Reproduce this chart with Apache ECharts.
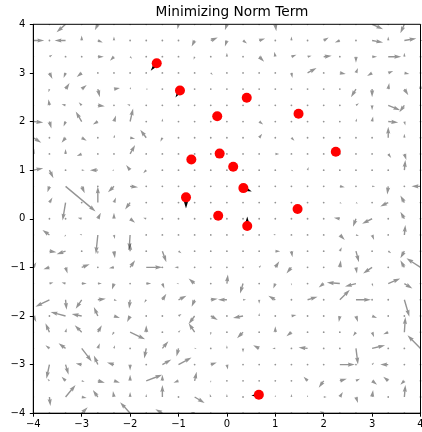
<!DOCTYPE html>
<html>
<head>
<meta charset="utf-8">
<script src="https://cdn.jsdelivr.net/npm/echarts@6/dist/echarts.min.js"></script>
<style>
  html, body { margin: 0; padding: 0; background: #fff; }
  #main { width: 422px; height: 432px; }
</style>
</head>
<body>
<div id="main"></div>
<script>
// quiver grid: 25 x 25 points, -4..4 on both axes
const GRID_N = 25;
const AXIS_MIN = -4;
const AXIS_MAX = 4;

// one string per grid row, top row (y=4) first, left to right.
// token "u,v" = arrow vector in arrow units, "0" = (almost) zero vector
const FIELD_ROWS = [
  '0 0 -9,-8 0 -3,-6 0 0 0 0 -1,-5 0 0 -2,-6 0 0 1,-7 0 0 0 0 0 11,-5 0 -4,-9 0',
  '11,0 0 -11,0 0,5 5,-2 0,4 0 0 0 1,-1 -3,-6 7,3 -2,-6 4,-3 6,2 0 0,4 0 5,3 -5,-2 0 11,-2 0,4 12,2 2,0',
  '0 3,2 0 0 6,0 -4,-4 2,-2 0 0 0 -1,-3 0 0,4 0 5,-5 -1,5 5,2 4,1 8,1 0 0,-6 5,0 13,0 0,4 0',
  '0 3,-6 -2,-5 -5,-4 0 0 0 0 0 0 0 2,-2 0 0 0 0 1,-5 9,5 0 6,-1 2,5 -5,-3 5,2 5,-1 0',
  '0 -1,-3 4,6 5,4 2,-8 6,1 1,2 2,0 0 0 0 0 0 0 0 0 0 0 0 0 -5,-8 0,-8 1,6 4,-6 0,5',
  '0 -1,6 -4,1 -3,3 7,-1 0 -3,1 0 0 0 0 0 0 0 0 0 0 0 0 0 3,2 0,-5 12,-5 -5,-7 0',
  '10,-1 2,-7 -2,-5 -6,10 -5,-3 2,6 3,13 0 0,3 0 0 0 0 0 4,-3 0 0 0 0 0 1,3 1,5 10,-1 1,-4 0',
  '8,-5 0 -4,-5 5,-3 0 1,3 5,-1 -6,8 -2,-4 0 0 0 0 0 3,4 0 3,-3 0 0 0 0 0 0,11 0,4 0',
  '1,5 0 0,5 -5,-2 0 0 5,9 0 0 0 0 0 0 0 0 4,0 0 0 0 0 0 0 3,-4 2,-6 0',
  '10,2 4,-8 0 3,0 -8,0 -2,0 -4,5 -3,-3 0 0 0 0 0 0 0 0 2,-1 1,3 0 0 0 0 0 1,10 0',
  '0 -2,-6 30,-25 3,-7 0 -6,-6 8,-1 0 0 0 0 0 0 0 0 0 0 0 0 5,-1 0 3,0 -1,-8 0 -9,0',
  '0 3,5 -3,-18 0 0,16 2,5 -5,-7 0 0 0 0 0 0 0 0 0 0 0 0 2,-1 2,-1 0 -8,-4 -4,7 0',
  '0 0 0 -4,1 3,6 0,6 5,-4 -3,1 0 0 0 0 0 0 0 0 0 0 0 -6,1 -3,-8 -10,-5 0 -4,7 0',
  '0 -7,5 -1,-2 -2,1 -2,-19 1,-4 -1,-15 0 0 0 0 0 0 0 0 -2,1 0 0 0 5,-5 3,-1 2,-5 0 1,10 0',
  '0 7,-1 -9,-3 0 0,-3 1,-7 0,8 0 4,-11 3,-2 0 0 0 0 0 5,0 1,-6 0 0 2,4 3,-11 0 3,-2 -4,-7 0',
  '3,5 -6,-2 2,-6 8,3 0 -5,-1 5,7 16,0 0 -4,0 0 0 0 0 2,2 4,6 -5,-6 0 0 1,7 1,-6 -9,-6 0 -4,7 -14,9',
  '0 4,1 -4,1 5,0 4,0 -2,-6 0 5,0 2,-5 -2,0 -6,5 0 1,9 -3,-10 0 -2,-5 0,-2 0 -5,-4 -13,1 -11,-3 1,-3 12,5 8,-5 0',
  '0 -14,-7 1,-10 -6,-9 8,1 3,-1 -1,-9 -2,-3 4,6 8,4 -3,-7 7,1 -9,0 3,0 0,-4 -7,4 0,-1 10,3 0 10,10 15,0 0 0 5,-17 0',
  '3,-6 0 -15,4 -10,2 -4,9 6,-2 -3,-6 0 0 3,2 -6,-8 7,-4 0 -10,-2 0,3 0 5,1 0 0 -1,-6 2,-6 5,-2 0 0 0',
  '0 -4,9 1,4 -7,7 4,7 -2,-3 15,-7 0,7 0 2,2 -6,9 0,-3 0 -6,-6 0 0,6 -5,-4 0 0 0 -3,-4 2,-5 -5,-2 1,15 0',
  '0 -4,3 -7,5 10,-13 2,5 1,3 0 -2,-10 6,7 -2,-8 2,0 0 0,3 0,-4 -6,3 -3,0 0 -9,1 0 0 2,-16 13,3 0 0 -13,13',
  '0 -3,-14 3,-10 -6,1 -4,9 -7,2 0,-6 0 9,5 13,7 0 6,2 1,-5 0 0 0 0 0 0 15,0 0 2,2 -8,0 0 0',
  '0 -2,2 -4,4 3,-1 7,-2 6,-2 0,6 16,6 0,6 -5,-2 2,9 0,-2 0 0 0 0 0 -4,4 -5,-7 7,2 4,2 5,-4 -5,4 -4,-4 0',
  '0 1,-9 10,12 5,-1 -5,7 -1,6 0,5 0,3 0,12 0 10,-6 -1,3 0,3 0 0 0,2 0,3 0,2 3,0 3,5 2,-6 1,7 0 1,12 0',
  '0 0 0 6,6 0 0 -10,11 0 -7,4 0 -4,1 0 0 0 0 0 0 0 -4,2 0 0 0 0 0 0'
];

// data units per arrow unit
const QUIVER_SCALE = 1 / 48.4;

// red points
const PTS_X = [-1.45, -0.97, 0.41, -0.20, 1.48, -0.735, -0.15, 0.13, 2.25, 0.34, -0.845, -0.18, 0.42, 1.46, 0.66];
const PTS_Y = [3.20, 2.64, 2.49, 2.11, 2.16, 1.22, 1.34, 1.07, 1.38, 0.63, 0.44, 0.06, -0.15, 0.20, -3.62];
// black arrows drawn from the red points (arrow units)
const PTS_U = [-6, -4.5, 0, 0, 0, 0, 0, 0, 0, 8.4, 0, 0, 0, 0, -7.5];
const PTS_V = [-7.5, -7, 0, 0, 0, 0, 0, 0, 0, -3.4, -11, 0, 9.5, 0, -1];

const TITLE = 'Minimizing Norm Term';
const FONT = 'DejaVu Sans';

const fieldData = [];
FIELD_ROWS.forEach((row, j) => {
  const y = AXIS_MAX - j * (AXIS_MAX - AXIS_MIN) / (GRID_N - 1);
  row.trim().split(/\s+/).forEach((tok, k) => {
    const x = AXIS_MIN + k * (AXIS_MAX - AXIS_MIN) / (GRID_N - 1);
    const uv = tok === '0' ? [0, 0] : tok.split(',').map(Number);
    fieldData.push([x, y, uv[0], uv[1]]);
  });
});
const pointArrows = PTS_X.map((x, i) => [x, PTS_Y[i], PTS_U[i], PTS_V[i]]);
const points = PTS_X.map((x, i) => [x, PTS_Y[i]]);

// matplotlib style quiver arrow (tail pivot), short arrows get shrunk
function arrowRenderer(w, color, dots) {
  return function (params, api) {
    const x = api.value(0), y = api.value(1);
    const u = api.value(2), v = api.value(3);
    const p0 = api.coord([x, y]);
    const p1 = api.coord([x + u * QUIVER_SCALE, y + v * QUIVER_SCALE]);
    const dx = p1[0] - p0[0], dy = p1[1] - p0[1];
    const L = Math.hypot(dx, dy);
    if (L < 1.5) {
      if (!dots) return null;
      return {
        type: 'circle',
        shape: { cx: p0[0], cy: p0[1], r: 0.9 },
        style: { fill: color }
      };
    }
    const s = L < 5 * w ? L / (5 * w) : 1;
    const sw = w * s, hw = 3 * w * s, hl = 5 * w * s, hal = 4.5 * w * s;
    const ux = dx / L, uy = dy / L;
    const nx = -uy, ny = ux;
    const pt = (a, b) => [p0[0] + ux * a + nx * b, p0[1] + uy * a + ny * b];
    return {
      type: 'polygon',
      shape: {
        points: [
          pt(0, -sw / 2), pt(L - hal, -sw / 2), pt(L - hl, -hw / 2), pt(L, 0),
          pt(L - hl, hw / 2), pt(L - hal, sw / 2), pt(0, sw / 2)
        ]
      },
      style: { fill: color }
    };
  };
}

const minus = (v) => String(v).replace('-', '\u2212');

const axisCommon = {
  type: 'value',
  min: AXIS_MIN,
  max: AXIS_MAX,
  interval: 1,
  splitLine: { show: false },
  axisLine: { show: true, onZero: false, lineStyle: { color: '#000', width: 1 } },
  axisTick: { show: true, inside: false, length: 3.5, lineStyle: { color: '#000', width: 1 } }
};

const chart = echarts.init(document.getElementById('main'));
chart.setOption({
  animation: false,
  backgroundColor: '#fff',
  title: {
    text: TITLE,
    left: 227,
    top: 0,
    textAlign: 'center',
    textStyle: { fontFamily: FONT, fontSize: 13.7, fontWeight: 'normal', color: '#000' }
  },
  grid: {
    left: 33.3,
    top: 24.3,
    width: 387.2,
    height: 388.9,
    containLabel: false,
    outerBoundsMode: 'none',
    show: true,
    borderColor: '#000',
    borderWidth: 1,
    backgroundColor: 'transparent'
  },
  xAxis: Object.assign({}, axisCommon, {
    axisLabel: {
      color: '#000', fontFamily: FONT, fontSize: 10, margin: 6,
      showMinLabel: true, showMaxLabel: true, formatter: minus
    }
  }),
  yAxis: Object.assign({}, axisCommon, {
    axisLabel: {
      color: '#000', fontFamily: FONT, fontSize: 10, margin: 8,
      showMinLabel: true, showMaxLabel: true, formatter: minus
    }
  }),
  series: [
    {
      type: 'custom',
      name: 'field',
      clip: true,
      z: 2,
      data: fieldData,
      renderItem: arrowRenderer(1.4, 'rgba(0,0,0,0.42)', true)
    },
    {
      type: 'custom',
      name: 'gradient',
      clip: true,
      z: 3,
      data: pointArrows,
      renderItem: arrowRenderer(2.1, '#000', false)
    },
    {
      type: 'scatter',
      name: 'points',
      z: 4,
      symbol: 'circle',
      symbolSize: 10,
      itemStyle: { color: '#ff0000', opacity: 1 },
      data: points
    }
  ]
});
</script>
</body>
</html>
